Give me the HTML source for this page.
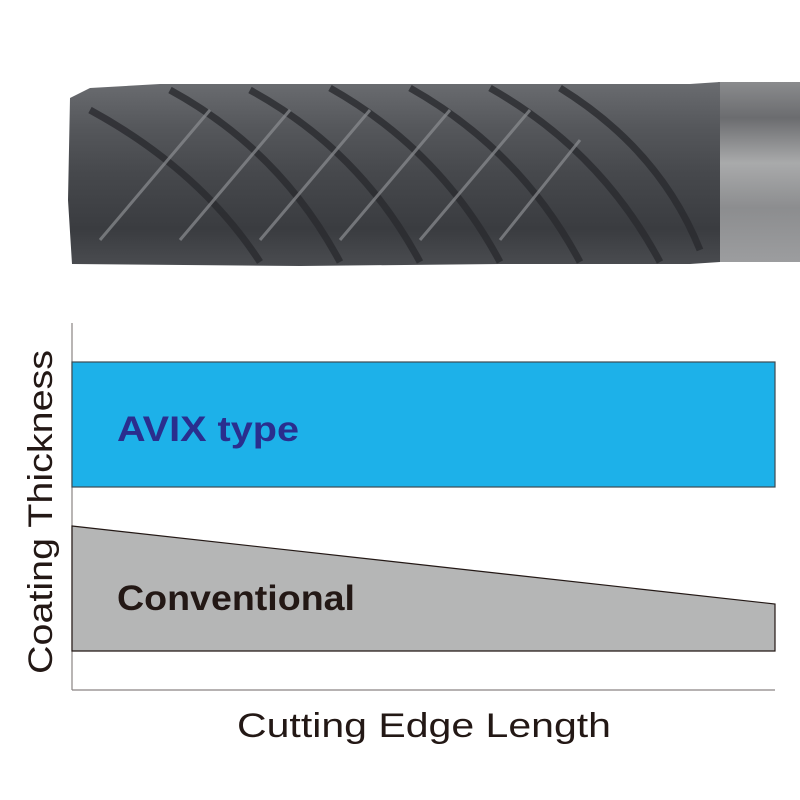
<!DOCTYPE html>
<html><head><meta charset="utf-8"><style>body{margin:0;background:#fff}svg{display:block}</style></head>
<body>
<svg width="800" height="800" viewBox="0 0 800 800" xmlns="http://www.w3.org/2000/svg">
<defs>
<linearGradient id="body" x1="0" y1="0" x2="0" y2="1">
<stop offset="0" stop-color="#6a6c70"/><stop offset="0.25" stop-color="#55575b"/><stop offset="0.5" stop-color="#46484c"/><stop offset="0.8" stop-color="#3a3c40"/><stop offset="1" stop-color="#4a4c50"/>
</linearGradient>
<linearGradient id="shank" x1="0" y1="0" x2="0" y2="1">
<stop offset="0" stop-color="#8a8b8d"/><stop offset="0.2" stop-color="#6b6c6f"/><stop offset="0.45" stop-color="#a9aaab"/><stop offset="0.7" stop-color="#8c8d8f"/><stop offset="1" stop-color="#9c9d9f"/>
</linearGradient>
</defs>
<rect x="718" y="82" width="82" height="180" fill="url(#shank)"/>
<path d="M70,98 L90,88 L160,84 L300,84 L500,84 L620,84 L690,84 L720,82 L720,262 L690,264 L500,264 L300,266 L72,264 L68,200 Z" fill="url(#body)"/>
<g stroke="#2a2b2f" stroke-width="7" fill="none" opacity="0.8">
<path d="M90,110 Q200,170 260,262"/><path d="M170,90 Q280,150 340,262"/><path d="M250,90 Q360,150 420,262"/><path d="M330,88 Q440,150 500,262"/><path d="M410,88 Q520,150 580,262"/><path d="M490,88 Q600,150 660,262"/><path d="M560,88 Q660,150 700,250"/>
</g>
<g stroke="#8c8e92" stroke-width="3" fill="none" opacity="0.7">
<path d="M100,240 L210,110"/><path d="M180,240 L290,110"/><path d="M260,240 L370,110"/><path d="M340,240 L450,110"/><path d="M420,240 L530,110"/><path d="M500,240 L580,140"/>
</g>
<line x1="72" y1="323" x2="72" y2="690" stroke="#8a8483" stroke-width="1.2"/>
<line x1="72" y1="690" x2="775" y2="690" stroke="#8a8483" stroke-width="1.2"/>
<rect x="72" y="362" width="703" height="125" fill="#1db1e9" stroke="#3d4a52" stroke-width="1.2"/>
<polygon points="72,526 775,604 775,651 72,651" fill="#b5b6b6" stroke="#231815" stroke-width="1.2"/>
<text x="117" y="441" font-family="Liberation Sans, sans-serif" font-weight="bold" font-size="35" fill="#2a2e8e" textLength="182" lengthAdjust="spacingAndGlyphs">AVIX type</text>
<text x="117" y="610" font-family="Liberation Sans, sans-serif" font-weight="bold" font-size="35" fill="#231815" textLength="238" lengthAdjust="spacingAndGlyphs">Conventional</text>
<text transform="translate(52,512) rotate(-90)" text-anchor="middle" font-family="Liberation Sans, sans-serif" font-size="34" fill="#231815" textLength="324" lengthAdjust="spacingAndGlyphs">Coating Thickness</text>
<text x="424" y="737" text-anchor="middle" font-family="Liberation Sans, sans-serif" font-size="34" fill="#231815" textLength="374" lengthAdjust="spacingAndGlyphs">Cutting Edge Length</text>
</svg>
</body></html>
